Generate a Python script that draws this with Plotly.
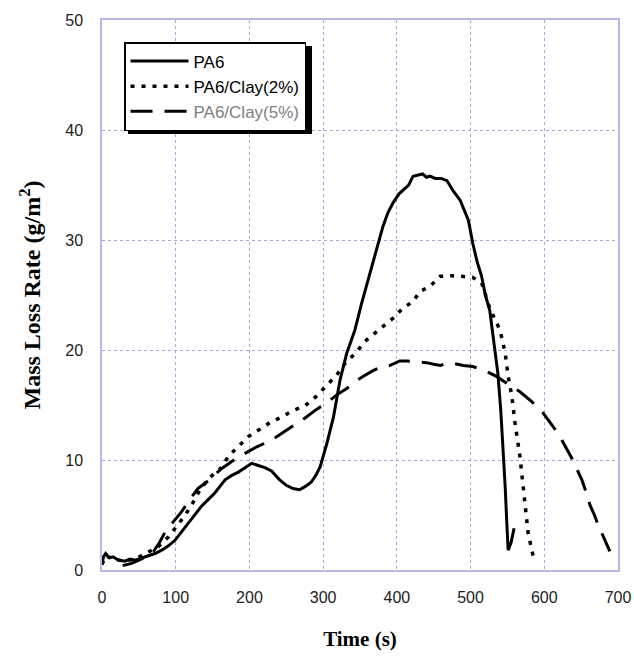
import plotly.graph_objects as go

# ---- data ----
time_pa6 = [0, 2, 5, 10, 15, 22, 31, 38, 45, 55, 62, 72, 81, 90, 99, 108, 117, 126, 135, 144,
            153, 160, 167, 176, 185, 194, 203, 212, 221, 230, 241, 250, 259, 268, 276, 284, 290,
            296, 305, 314, 323, 332, 343, 352, 361, 370, 381, 388, 395, 403, 410, 416, 422, 429,
            435, 440, 445, 452, 460, 468, 476, 486, 497, 503, 509, 515, 520, 526, 531, 537, 541,
            544, 547, 549, 551, 555, 559]
mlr_pa6 = [0.5, 1.2, 1.5, 1.1, 1.2, 0.9, 0.8, 1.0, 0.9, 1.1, 1.3, 1.5, 1.8, 2.2, 2.7, 3.5, 4.3,
           5.0, 5.8, 6.4, 7.0, 7.6, 8.2, 8.6, 8.9, 9.3, 9.7, 9.5, 9.3, 9.0, 8.2, 7.7, 7.4, 7.3,
           7.6, 8.0, 8.6, 9.4, 11.5, 13.9, 17.3, 19.7, 21.8, 24.2, 26.4, 28.5, 31.2, 32.5, 33.4,
           34.2, 34.6, 35.0, 35.8, 35.9, 36.0, 35.7, 35.8, 35.6, 35.6, 35.4, 34.5, 33.6, 31.8,
           29.7, 28.0, 26.7, 25.0, 23.6, 21.0, 17.9, 14.5, 11.2, 7.5, 4.5, 1.8, 2.5, 3.8]

time_c2 = [0, 5, 15, 30, 45, 62, 76, 90, 103, 113, 124, 133, 146, 162, 171, 185, 198, 212, 230,
           244, 259, 275, 291, 305, 318, 330, 345, 357, 370, 383, 395, 408, 422, 431, 445, 459,
           474, 488, 503, 515, 522, 526, 533, 540, 547, 551, 556, 560, 567, 574, 578, 586]
mlr_c2 = [0.5, 1.3, 1.0, 0.8, 1.0, 1.6, 2.1, 3.0, 4.1, 5.0, 6.2, 7.3, 8.4, 9.3, 10.3, 11.2, 12.1,
          12.7, 13.5, 13.9, 14.5, 14.9, 15.8, 16.8, 17.7, 18.8, 19.8, 20.8, 21.5, 22.2, 22.9,
          23.8, 24.4, 25.3, 25.8, 26.7, 26.75, 26.7, 26.6, 26.1, 24.7, 23.8, 22.8, 21.8, 19.7,
          17.6, 15.8, 13.5, 10.3, 6.1, 3.4, 0.9]

time_c5 = [28, 40, 50, 60, 70, 78, 86, 97, 108, 119, 130, 146, 155, 164, 179, 194, 210, 230, 257,
           275, 291, 305, 318, 332, 343, 354, 367, 380, 391, 404, 413, 427, 440, 450, 459, 468,
           476, 490, 503, 520, 535, 551, 567, 583, 598, 608, 619, 628, 637, 644, 651, 657, 662,
           668, 673, 681, 689]
mlr_c5 = [0.4, 0.6, 0.9, 1.2, 1.7, 2.5, 3.5, 4.4, 5.3, 6.4, 7.4, 8.2, 8.8, 9.3, 10.0, 10.6, 11.2,
          11.8, 13.0, 13.8, 14.6, 15.2, 15.9, 16.5, 17.1, 17.6, 18.1, 18.5, 18.6, 19.0, 19.0,
          18.9, 18.85, 18.7, 18.6, 18.8, 18.8, 18.6, 18.5, 18.1, 17.6, 16.9, 16.2, 15.3, 14.3,
          13.4, 12.4, 11.3, 10.2, 9.2, 8.2, 7.0, 5.9, 5.0, 4.1, 2.9, 1.7]

x_ticks = [0, 100, 200, 300, 400, 500, 600, 700]
y_ticks = [0, 10, 20, 30, 40, 50]

names = ["PA6", "PA6/Clay(2%)", "<span style='color:#808080'>PA6/Clay(5%)</span>"]

fig = go.Figure()
fig.add_trace(go.Scatter(x=time_pa6, y=mlr_pa6, mode="lines", name=names[0],
                         line=dict(color="black", width=3)))
fig.add_trace(go.Scatter(x=time_c2, y=mlr_c2, mode="lines", name=names[1],
                         line=dict(color="black", width=3.5, dash="4px,7px")))
fig.add_trace(go.Scatter(x=time_c5, y=mlr_c5, mode="lines", name=names[2],
                         line=dict(color="black", width=3, dash="22px,12px")))

axis_col = "#b8b8e4"
grid_col = "#a8a8dc"

# plot area geometry (for legend shadow)
W, H = 634, 661
ML, MR, MT, MB = 102, 16, 20, 91
pw, ph = W - ML - MR, H - MT - MB

def px_to_paper_x(px):
    return (px - ML) / pw

def px_to_paper_y(py):
    return 1 - (py - MT) / ph

# legend drop shadow
fig.add_shape(type="rect", xref="paper", yref="paper", layer="above",
              x0=px_to_paper_x(128), x1=px_to_paper_x(312),
              y0=px_to_paper_y(134), y1=px_to_paper_y(46),
              fillcolor="black", line=dict(width=0))

fig.update_layout(
    width=W, height=H,
    margin=dict(l=ML, r=MR, t=MT, b=MB, autoexpand=False),
    paper_bgcolor="white", plot_bgcolor="white",
    font=dict(family="Liberation Sans, Arial, sans-serif", size=16, color="#222"),
    showlegend=True,
    legend=dict(x=px_to_paper_x(124), y=px_to_paper_y(42), xanchor="left", yanchor="top",
                bgcolor="white", bordercolor="black", borderwidth=1.5,
                font=dict(size=17, color="black"), tracegroupgap=0,
                itemwidth=58),
    xaxis=dict(range=[0, 700], tickvals=x_ticks, ticks="", showline=True, linecolor=axis_col,
               linewidth=1.5, mirror=True, showgrid=True, gridcolor=grid_col, griddash="dot",
               gridwidth=1, zeroline=False, ticklabelstandoff=12, automargin=False,
               title=dict(text="<b>Time (s)</b>", standoff=26,
                          font=dict(family="Liberation Serif, Times New Roman, serif", size=21,
                                    color="black"))),
    yaxis=dict(range=[0, 50], tickvals=y_ticks, ticks="", showline=True, linecolor=axis_col,
               linewidth=1.5, mirror=True, showgrid=True, gridcolor=grid_col, griddash="dot",
               gridwidth=1, zeroline=False, ticklabelstandoff=14, automargin=False,
               title=dict(text="<b>Mass Loss Rate (g/m<sup>2</sup>)</b>", standoff=18,
                          font=dict(family="Liberation Serif, Times New Roman, serif", size=24,
                                    color="black"))),
)

fig.write_html("out.html")
